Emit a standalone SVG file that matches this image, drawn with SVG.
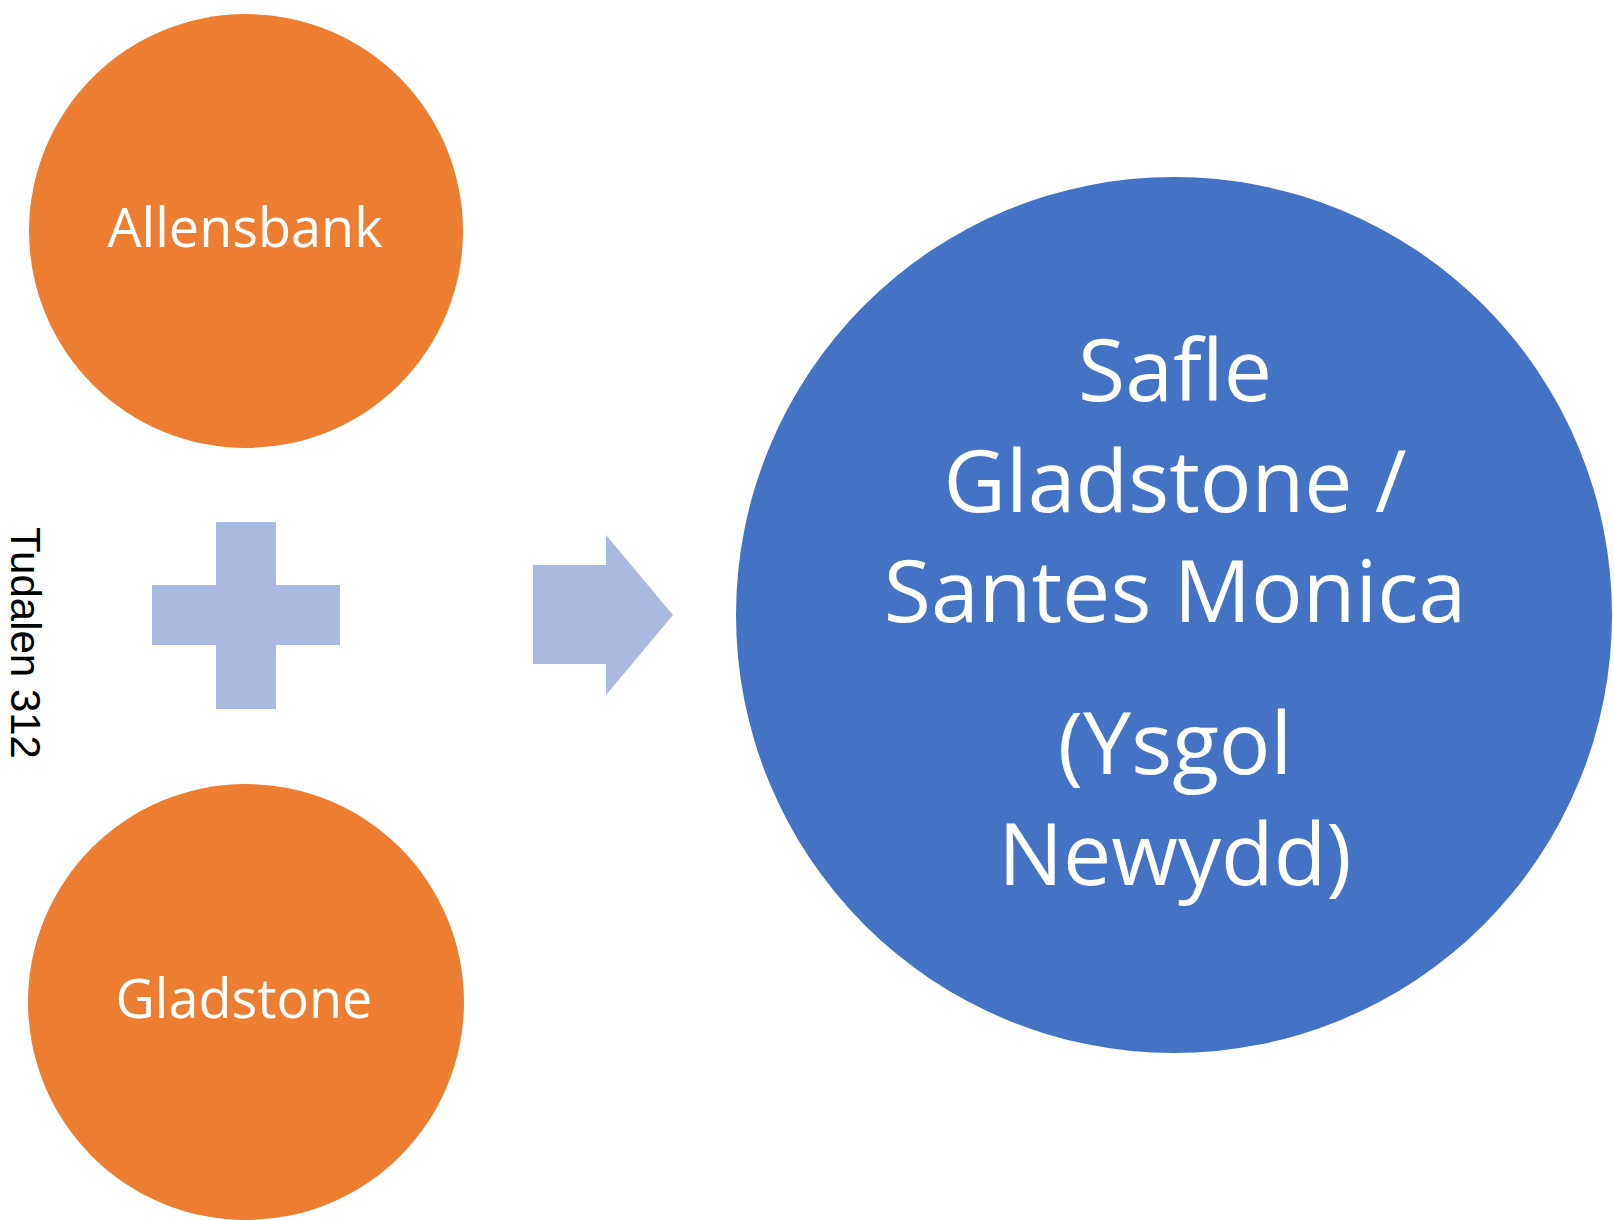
<svg xmlns="http://www.w3.org/2000/svg" width="1614" height="1220" viewBox="0 0 1614 1220">
<style>
.orange{fill:#ED7D31;}
.blue{fill:#4472C4;}
.pale{fill:#AAB9E0;}
.lbl{font-family:"Open Sans","Noto Sans",sans-serif;fill:#FFFFFF;text-anchor:middle;}
.small{font-size:54px;}
.big{font-size:86px;}
.side{font-family:"Liberation Sans",Arial,sans-serif;font-size:42px;fill:#000000;}
</style>
<rect width="1614" height="1220" fill="#FFFFFF"/>
<g id="allensbank">
<circle class="orange" cx="246" cy="231" r="217"/>
<text class="lbl small" x="245" y="247">Allensbank</text>
</g>
<g id="gladstone">
<circle class="orange" cx="246" cy="1002" r="218"/>
<text class="lbl small" x="244" y="1018">Gladstone</text>
</g>
<g id="plus">
<rect class="pale" x="216" y="522" width="60" height="187"/>
<rect class="pale" x="152" y="585" width="188" height="60"/>
</g>
<g id="connectors">
<polygon class="pale" points="533,565 606,565 606,535 673,615 606,695 606,664 533,664"/>
</g>
<g id="new-school">
<circle class="blue" cx="1174" cy="615" r="438"/>
<text class="lbl big" x="1175" y="401">Safle</text>
<text class="lbl big" x="1175" y="512">Gladstone /</text>
<text class="lbl big" x="1175" y="622">Santes Monica</text>
<text class="lbl big" x="1175" y="774">(Ysgol</text>
<text class="lbl big" x="1175" y="885">Newydd)</text>
</g>
<g id="page-label">
<text class="side" transform="translate(11,527) rotate(90)" x="0" y="0">Tudalen 312</text>
</g>
</svg>
